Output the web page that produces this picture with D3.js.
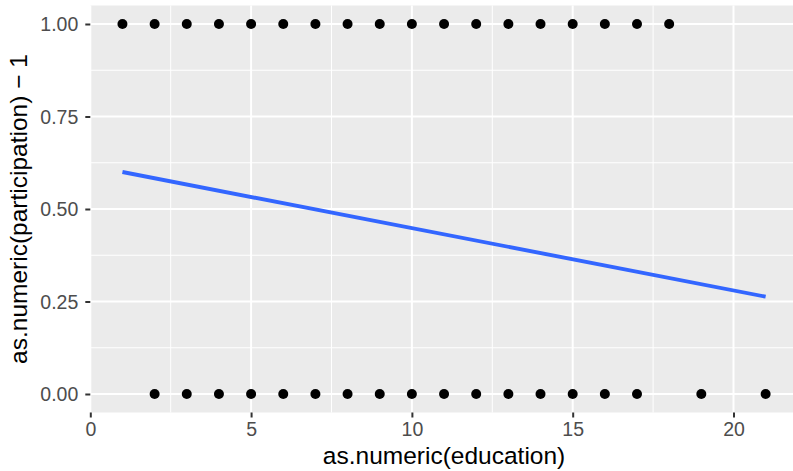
<!DOCTYPE html>
<html>
<head>
<meta charset="utf-8">
<script src="https://cdn.jsdelivr.net/npm/d3@7"></script>
<style>
body { margin: 0; background: #fff; }
svg { display: block; font-family: "Liberation Sans", Arial, sans-serif; }
</style>
</head>
<body>
<svg width="793" height="471"></svg>
<script>
// participation == 1 (yes)
const eduYes = [1, 2, 3, 4, 5, 6, 7, 8, 9, 10, 11, 12, 13, 14, 15, 16, 17, 18];
// participation == 0 (no)
const eduNo = [2, 3, 4, 5, 6, 7, 8, 9, 10, 11, 12, 13, 14, 15, 16, 17, 19, 21];
// lm fit, evaluated at the ends of the x range
const fitX = [1, 21];
const fitY = [0.600, 0.263];

const xTicks = [0, 5, 10, 15, 20];
const xMinor = [2.5, 7.5, 12.5, 17.5];
const yTicks = [0, 0.25, 0.5, 0.75, 1];
const yMinor = [0.125, 0.375, 0.625, 0.875];

function render() {
	const svg = d3.select("svg");

	const x = d3.scaleLinear().domain([0, 22]).range([90.3, 797.8]);
	const y = d3.scaleLinear().domain([-0.05, 1.05]).range([412.5, 5.5]);

	const points = eduYes.map(e => [e, 1]).concat(eduNo.map(e => [e, 0]));

	// panel
	svg.append("rect")
		.attr("x", x(0))
		.attr("y", y(1.05))
		.attr("width", x(22) - x(0))
		.attr("height", y(-0.05) - y(1.05))
		.attr("fill", "#EBEBEB");

	const grid = svg.append("g");
	grid.selectAll(".vminor").data(xMinor).enter().append("line")
		.attr("x1", d => x(d)).attr("x2", d => x(d))
		.attr("y1", y(1.05)).attr("y2", y(-0.05))
		.attr("stroke", "#fff").attr("stroke-width", 1);
	grid.selectAll(".hminor").data(yMinor).enter().append("line")
		.attr("x1", x(0)).attr("x2", x(22))
		.attr("y1", d => y(d)).attr("y2", d => y(d))
		.attr("stroke", "#fff").attr("stroke-width", 1);
	grid.selectAll(".vmajor").data(xTicks).enter().append("line")
		.attr("x1", d => x(d)).attr("x2", d => x(d))
		.attr("y1", y(1.05)).attr("y2", y(-0.05))
		.attr("stroke", "#fff").attr("stroke-width", 2);
	grid.selectAll(".hmajor").data(yTicks).enter().append("line")
		.attr("x1", x(0)).attr("x2", x(22))
		.attr("y1", d => y(d)).attr("y2", d => y(d))
		.attr("stroke", "#fff").attr("stroke-width", 2);

	// points
	svg.selectAll(".dot")
		.data(points)
		.enter().append("circle")
		.attr("cx", d => x(d[0]))
		.attr("cy", d => y(d[1]))
		.attr("r", 5)
		.attr("fill", "#000");

	// fitted line
	const line = d3.line()
		.x(d => x(d[0]))
		.y(d => y(d[1]));
	svg.append("path")
		.datum(fitX.map((v, i) => [v, fitY[i]]))
		.attr("d", line)
		.attr("fill", "none")
		.attr("stroke", "#3366FF")
		.attr("stroke-width", 3.9);

	// axes
	const xAxis = d3.axisBottom(x)
		.tickValues(xTicks)
		.tickFormat(d3.format("d"))
		.tickSize(5)
		.tickPadding(5);
	const gx = svg.append("g")
		.attr("transform", "translate(0," + y(-0.05) + ")")
		.call(xAxis);

	const yAxis = d3.axisLeft(y)
		.tickValues(yTicks)
		.tickFormat(d3.format(".2f"))
		.tickSize(5)
		.tickPadding(7);
	const gy = svg.append("g")
		.attr("transform", "translate(" + x(0) + ",0)")
		.call(yAxis);

	[gx, gy].forEach(g => {
		g.select(".domain").remove();
		g.selectAll(".tick line").attr("stroke", "#333333").attr("stroke-width", 2);
		g.selectAll(".tick text")
			.attr("fill", "#4D4D4D")
			.style("font-size", "19.5px")
			.style("font-family", "Liberation Sans, Arial, sans-serif");
	});
	gy.selectAll(".tick text").attr("dy", "0.35em");

	// titles
	svg.append("text")
		.attr("x", (x(0) + x(22)) / 2)
		.attr("y", 464)
		.attr("text-anchor", "middle")
		.style("font-size", "24.5px")
		.attr("fill", "#000")
		.text("as.numeric(education)");

	svg.append("text")
		.attr("transform", "translate(27," + (y(-0.05) + y(1.05)) / 2 + ") rotate(-90)")
		.attr("text-anchor", "middle")
		.style("font-size", "24.5px")
		.attr("fill", "#000")
		.text("as.numeric(participation) \u2212 1");
}

render();
</script>
</body>
</html>
